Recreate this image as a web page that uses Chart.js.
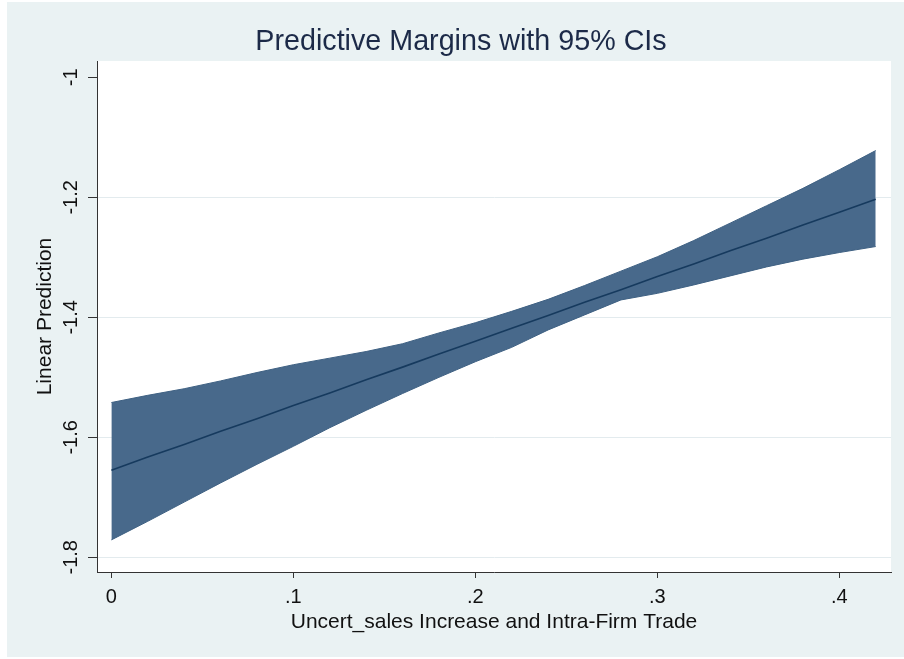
<!DOCTYPE html>
<html>
<head>
<meta charset="utf-8">
<script src="https://cdn.jsdelivr.net/npm/chart.js@4.4.0/dist/chart.umd.min.js"></script>
<style>
  html, body { margin: 0; padding: 0; background: #ffffff; }
  #wrap { width: 904px; height: 659px; position: relative; }
</style>
</head>
<body>
<div id="wrap"><canvas id="c" width="904" height="659"></canvas></div>
<script>
// ---- data ----
const xValues = [0, 0.02, 0.04, 0.06, 0.08, 0.10, 0.12, 0.14, 0.16, 0.18, 0.20, 0.22, 0.24, 0.26, 0.28, 0.30, 0.32, 0.34, 0.36, 0.38, 0.40, 0.42];
const upperCI = [-1.542, -1.530, -1.519, -1.506, -1.492, -1.479, -1.468, -1.457, -1.444, -1.426, -1.409, -1.390, -1.370, -1.347, -1.323, -1.299, -1.272, -1.243, -1.214, -1.185, -1.154, -1.122];
const margin  = [-1.655, -1.633, -1.612, -1.590, -1.569, -1.547, -1.526, -1.504, -1.483, -1.461, -1.440, -1.418, -1.397, -1.375, -1.354, -1.332, -1.311, -1.289, -1.268, -1.246, -1.225, -1.203];
const lowerCI = [-1.771, -1.740, -1.708, -1.676, -1.645, -1.615, -1.584, -1.555, -1.527, -1.500, -1.474, -1.450, -1.421, -1.396, -1.371, -1.360, -1.346, -1.331, -1.316, -1.303, -1.292, -1.282];
const xTicks = [0, 0.1, 0.2, 0.3, 0.4];
const xTickLabels = ["0", ".1", ".2", ".3", ".4"];
const yTicks = [-1.8, -1.6, -1.4, -1.2, -1];
const yTickLabels = ["-1.8", "-1.6", "-1.4", "-1.2", "-1"];
const titleText = "Predictive Margins with 95% CIs";
const xTitle = "Uncert_sales Increase and Intra-Firm Trade";
const yTitle = "Linear Prediction";

const pts = arr => xValues.map((x, i) => ({x: x, y: arr[i]}));

const bgPlugin = {
  id: 'bg',
  beforeDraw(chart) {
    const ctx = chart.ctx;
    const a = chart.chartArea;
    ctx.save();
    ctx.fillStyle = '#ffffff';
    ctx.fillRect(0, 0, chart.width, chart.height);
    ctx.fillStyle = '#eaf2f3';
    ctx.fillRect(7, 2, chart.width - 7, chart.height - 4);
    ctx.fillStyle = '#ffffff';
    ctx.fillRect(a.left, a.top, a.right - a.left, a.bottom - a.top);
    ctx.restore();
  }
};

const fam = "'Liberation Sans', Arial, sans-serif";
const tickFont = { family: fam, size: 20 };
const titleFont = { family: fam, size: 21 };

new Chart(document.getElementById('c'), {
  type: 'line',
  data: {
    datasets: [
      { data: pts(lowerCI), borderColor: '#3f6183', borderWidth: 1, pointRadius: 0, fill: false, tension: 0, order: 2 },
      { data: pts(upperCI), borderColor: '#3f6183', borderWidth: 1, pointRadius: 0, fill: '-1', backgroundColor: '#48698b', tension: 0, order: 2 },
      { data: pts(margin), borderColor: '#163a5e', borderWidth: 1.6, pointRadius: 0, fill: false, tension: 0, order: 1 }
    ]
  },
  options: {
    responsive: false,
    animation: false,
    layout: { padding: { left: 31, right: 13, top: 0, bottom: 0 } },
    plugins: {
      legend: { display: false },
      tooltip: { enabled: false },
      title: {
        display: true,
        text: titleText,
        color: '#1c2a48',
        font: { family: fam, size: 28.7, weight: 'normal' },
        padding: { top: 25.3, bottom: 1.3 }
      }
    },
    scales: {
      x: {
        type: 'linear',
        min: -0.0079,
        max: 0.4284,
        afterBuildTicks: s => { s.ticks = xTicks.map(v => ({ value: v })); },
        afterFit: s => { s.height = 87; },
        ticks: {
          callback: (v) => { const i = xTicks.findIndex(t => Math.abs(t - v) < 1e-9); return i >= 0 ? xTickLabels[i] : ''; },
          color: '#111', font: tickFont, padding: 7.5, maxRotation: 0, autoSkip: false
        },
        grid: { drawOnChartArea: false, drawTicks: true, tickLength: 6, tickColor: '#333', tickWidth: 1 },
        border: { display: true, color: '#333', width: 1 },
        title: { display: true, text: xTitle, color: '#111', font: titleFont, padding: { top: 0, bottom: 23.9 } }
      },
      y: {
        type: 'linear',
        min: -1.8245,
        max: -0.9728,
        afterBuildTicks: s => { s.ticks = yTicks.map(v => ({ value: v })); },
        afterFit: s => { s.width = 66; },
        ticks: {
          callback: (v) => { const i = yTicks.findIndex(t => Math.abs(t - v) < 1e-9); return i >= 0 ? yTickLabels[i] : ''; },
          color: '#111', font: tickFont, padding: -1, minRotation: 90, maxRotation: 90, crossAlign: 'center', autoSkip: false
        },
        grid: {
          color: ctx => (ctx.tick && Math.abs(ctx.tick.value + 1) < 1e-9) ? 'rgba(0,0,0,0)' : '#e3ebee',
          lineWidth: 1, drawTicks: true, tickLength: 9, tickColor: '#333', tickWidth: 1
        },
        border: { display: true, color: '#333', width: 1 },
        title: { display: true, text: yTitle, color: '#111', font: titleFont, padding: { top: 1.4, bottom: 0 } }
      }
    }
  },
  plugins: [bgPlugin]
});
</script>
</body>
</html>
